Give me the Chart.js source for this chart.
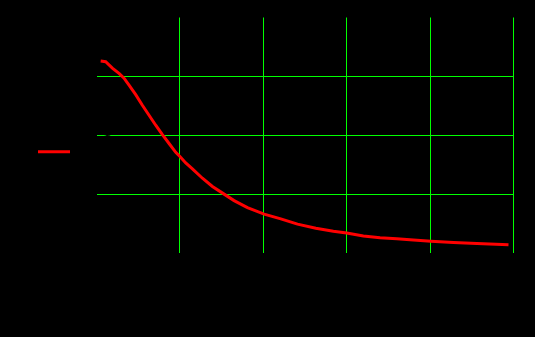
<!DOCTYPE html>
<html>
<head>
<meta charset="utf-8">
<script src="https://cdn.jsdelivr.net/npm/chart.js@4"></script>
<style>
  html, body { margin: 0; padding: 0; background: #000; }
  #wrap { width: 535px; height: 337px; }
</style>
</head>
<body>
<div id="wrap"><canvas id="c"></canvas></div>
<script>
// ---- data ----
const seriesLabel = "y";
const xValues = [0.05, 0.11, 0.19, 0.27, 0.33, 0.39, 0.47, 0.55, 0.63, 0.71, 0.79, 0.87, 0.95, 1.00, 1.07, 1.15, 1.27, 1.39, 1.53, 1.65, 1.81, 2.01, 2.21, 2.41, 2.63, 2.84, 3.00, 3.20, 3.40, 3.60, 3.80, 4.01, 4.28, 4.56, 4.94];
const yValues = [3.26, 3.25, 3.14, 3.05, 2.97, 2.85, 2.69, 2.51, 2.34, 2.17, 2.01, 1.86, 1.71, 1.64, 1.53, 1.43, 1.27, 1.13, 1.00, 0.89, 0.77, 0.66, 0.58, 0.49, 0.42, 0.37, 0.34, 0.29, 0.26, 0.24, 0.22, 0.20, 0.18, 0.16, 0.14];
const xTicks = [0, 1, 2, 3, 4, 5];
const yTicks = [0, 1, 2, 3, 4];
const xTitle = "x";
const yTitle = "y";

// ---- layout constants ----
const PAD_LEFT = 28;
const PLOT_LEFT = 96.5;
const PLOT_BOTTOM = 253;
const PAD_BOTTOM = 51;

const points = xValues.map((x, i) => ({ x: x, y: yValues[i] }));
const GRID = '#00ff00';

new Chart(document.getElementById('c'), {
  type: 'line',
  data: {
    datasets: [{
      label: seriesLabel,
      data: points,
      borderColor: '#ff0000',
      backgroundColor: '#ff0000',
      borderWidth: 3,
      pointRadius: 0,
      tension: 0,
      fill: false
    }]
  },
  options: {
    responsive: true,
    maintainAspectRatio: false,
    animation: false,
    layout: { padding: { left: PAD_LEFT, right: 21.5, top: 17.5, bottom: PAD_BOTTOM } },
    plugins: {
      legend: {
        position: 'left',
        labels: {
          color: '#000',
          usePointStyle: true,
          pointStyle: 'line',
          pointStyleWidth: 32,
          boxHeight: 12,
          font: { family: 'DejaVu Sans', size: 12 }
        }
      },
      tooltip: { enabled: false }
    },
    scales: {
      x: {
        type: 'linear',
        min: xTicks[0],
        max: xTicks[xTicks.length - 1],
        afterBuildTicks: (s) => { s.ticks = xTicks.map(v => ({ value: v })); },
        ticks: { color: '#000', font: { family: 'DejaVu Sans', size: 12 } },
        title: { display: true, text: xTitle, color: '#000' },
        border: { display: false },
        grid: {
          drawTicks: false,
          color: (ctx) => (ctx.tick && ctx.tick.value === xTicks[0]) ? 'rgba(0,0,0,0)' : GRID,
          lineWidth: 1
        },
        afterFit: (s) => { s.height = 337 - PLOT_BOTTOM - PAD_BOTTOM; }
      },
      y: {
        type: 'linear',
        min: yTicks[0],
        max: yTicks[yTicks.length - 1],
        afterBuildTicks: (s) => { s.ticks = yTicks.map(v => ({ value: v })); },
        ticks: { color: '#000', font: { family: 'DejaVu Sans', size: 12 } },
        title: { display: true, text: yTitle, color: '#000' },
        border: { display: false },
        grid: {
          drawTicks: false,
          color: (ctx) => (ctx.tick && (ctx.tick.value === yTicks[0] || ctx.tick.value === yTicks[yTicks.length - 1])) ? 'rgba(0,0,0,0)' : GRID,
          lineWidth: 1
        },
        afterFit: (s) => {
          const lg = s.chart.legend;
          s.width = Math.max(0, PLOT_LEFT - PAD_LEFT - (lg ? lg.width : 0));
        }
      }
    }
  }
});
</script>
</body>
</html>
